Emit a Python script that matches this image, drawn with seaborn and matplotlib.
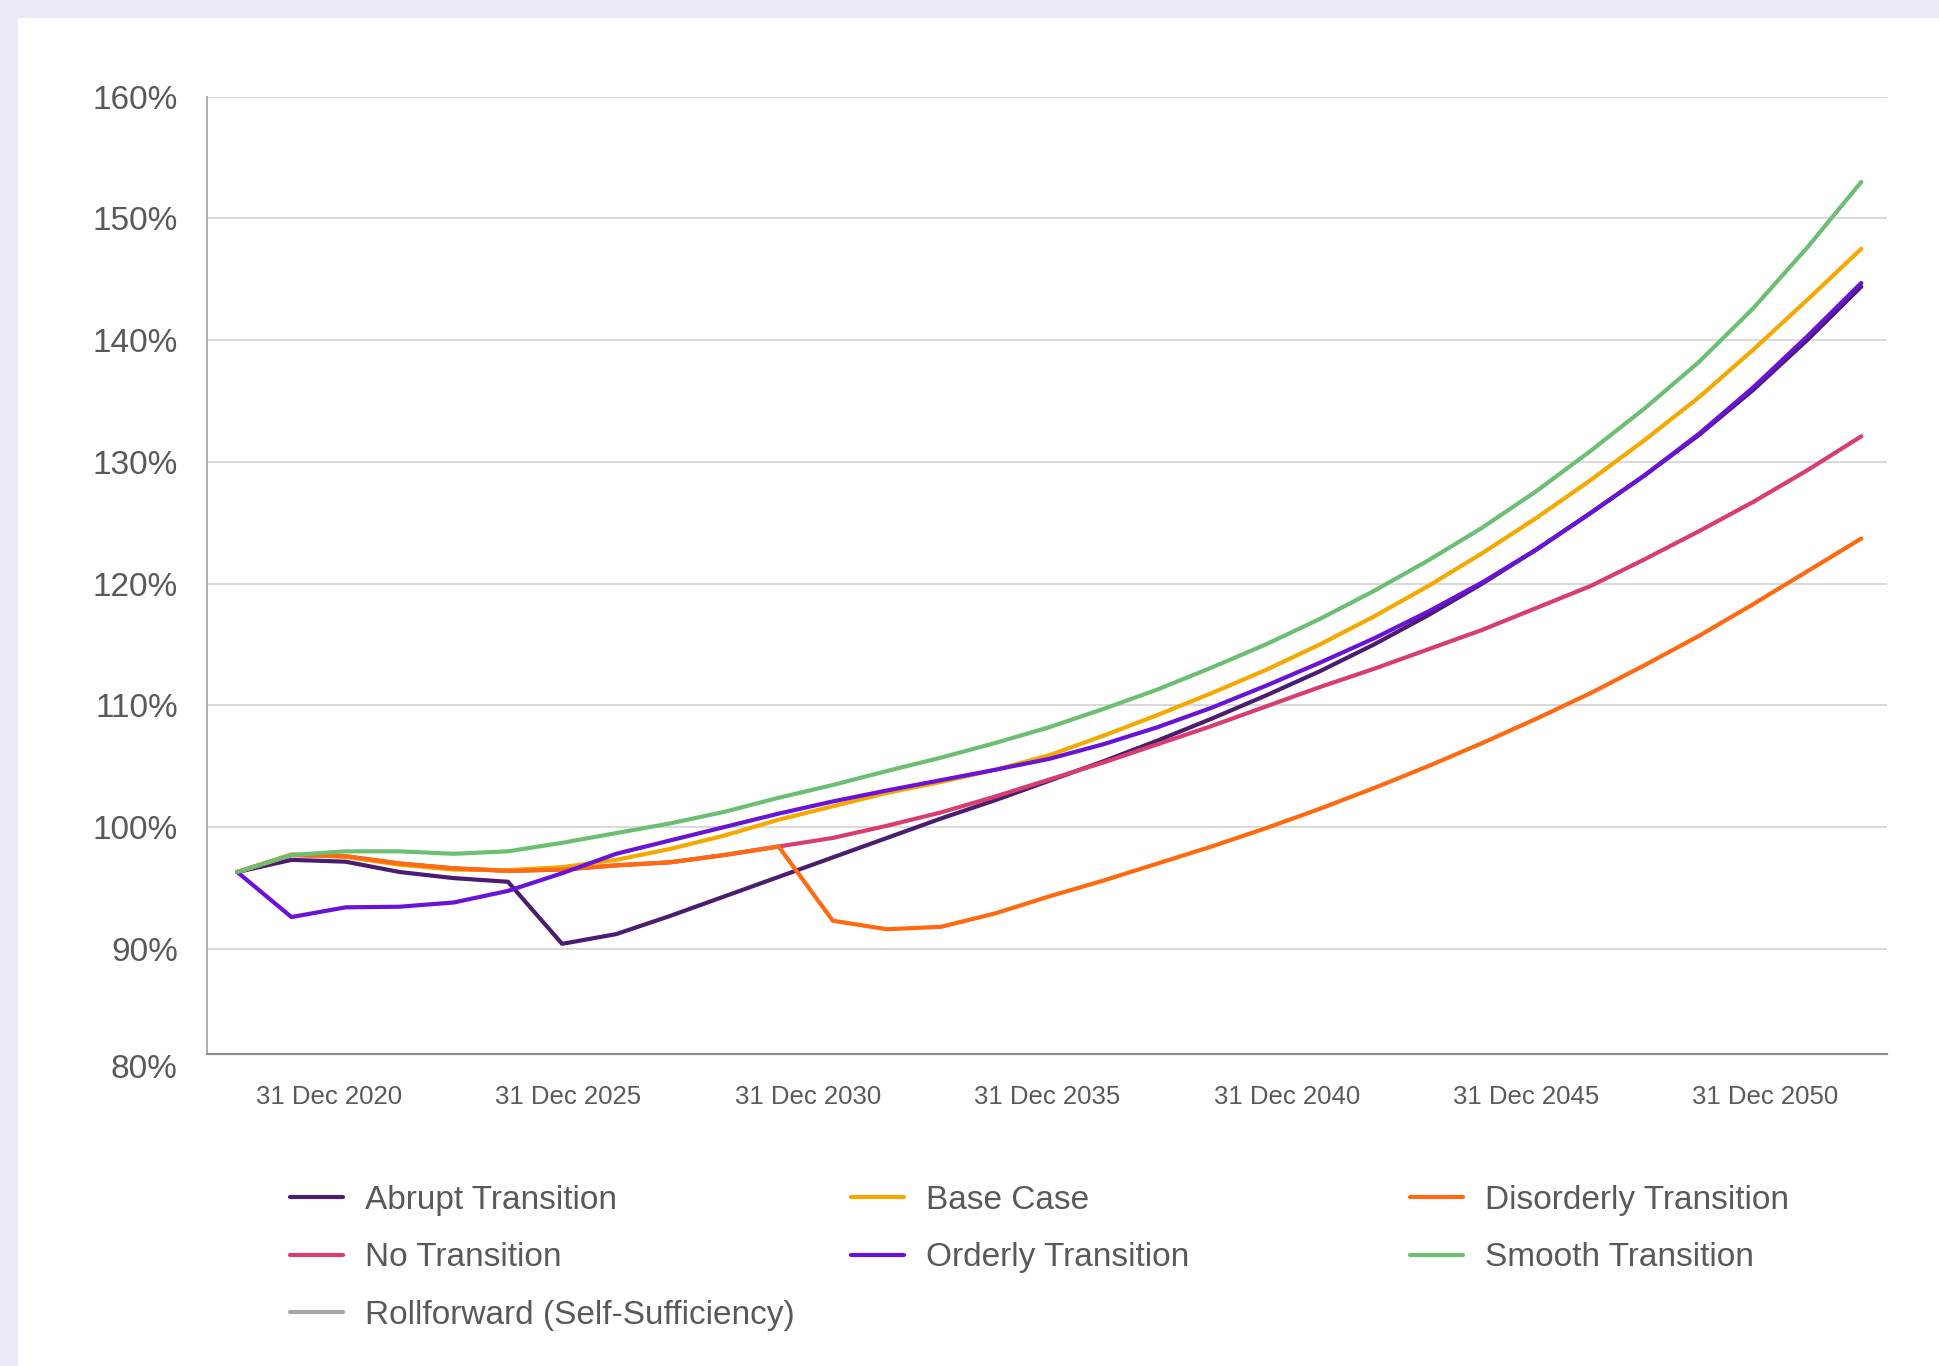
import pandas as pd
import matplotlib
matplotlib.use("Agg")
import matplotlib.pyplot as plt
import matplotlib.dates as mdates
from matplotlib.lines import Line2D
from matplotlib.patches import Rectangle
import seaborn as sns

# ---- data -------------------------------------------------------------
# projection valuation dates (31 evenly spaced points)
proj_dates = pd.date_range("2019-02-01", "2052-12-31", periods=31)

abrupt = [96.3, 97.3, 97.15, 96.3, 95.8, 95.5, 90.4, 91.2, 92.7, 94.3, 95.9,
          97.5, 99.1, 100.7, 102.2, 103.8, 105.4, 107.1, 108.9, 110.8, 112.8,
          115.0, 117.4, 120.0, 122.8, 125.8, 128.9, 132.2, 135.9, 140.0, 144.4]
base_case = [96.3, 97.75, 97.55, 96.9, 96.5, 96.45, 96.7, 97.3, 98.2, 99.3, 100.6,
             101.7, 102.8, 103.7, 104.7, 105.9, 107.5, 109.2, 111.0, 112.9, 115.0,
             117.3, 119.8, 122.5, 125.4, 128.5, 131.8, 135.3, 139.2, 143.3, 147.5]
disorderly = [96.3, 97.7, 97.6, 97.0, 96.6, 96.4, 96.5, 96.85, 97.1, 97.7, 98.4,
              92.3, 91.6, 91.8, 92.9, 94.3, 95.6, 97.0, 98.4, 99.9, 101.5,
              103.2, 105.0, 106.9, 108.9, 111.0, 113.3, 115.7, 118.3, 121.0, 123.7]
no_transition = [96.3, 97.7, 97.6, 97.0, 96.6, 96.4, 96.5, 96.85, 97.1, 97.7, 98.4,
                 99.1, 100.1, 101.2, 102.5, 103.9, 105.3, 106.8, 108.3, 109.9, 111.5,
                 113.0, 114.6, 116.2, 118.0, 119.8, 122.0, 124.3, 126.7, 129.3, 132.1]
orderly = [96.3, 92.6, 93.4, 93.45, 93.8, 94.75, 96.2, 97.8, 98.9, 100.0, 101.1,
           102.1, 103.0, 103.85, 104.7, 105.6, 106.8, 108.2, 109.8, 111.6, 113.5,
           115.5, 117.7, 120.1, 122.8, 125.8, 128.9, 132.3, 136.1, 140.3, 144.7]
smooth = [96.3, 97.7, 98.0, 98.0, 97.8, 98.0, 98.7, 99.5, 100.3, 101.25, 102.4,
          103.45, 104.6, 105.7, 106.9, 108.2, 109.7, 111.3, 113.1, 115.0, 117.1,
          119.4, 121.9, 124.6, 127.6, 130.9, 134.4, 138.2, 142.6, 147.6, 153.0]
rollforward = [96.3]  # only the opening valuation

series = {
    "Abrupt Transition": abrupt,
    "Base Case": base_case,
    "Disorderly Transition": disorderly,
    "No Transition": no_transition,
    "Orderly Transition": orderly,
    "Smooth Transition": smooth,
    "Rollforward (Self-Sufficiency)": rollforward,
}

colors = {
    "Abrupt Transition": "#4B1C70",
    "Base Case": "#F5A800",
    "Disorderly Transition": "#FF6A10",
    "No Transition": "#D93D70",
    "Orderly Transition": "#6A12D6",
    "Smooth Transition": "#6CBF72",
    "Rollforward (Self-Sufficiency)": "#A6A6A6",
}

tick_dates = ["2020-12-31", "2025-12-31", "2030-12-31", "2035-12-31",
              "2040-12-31", "2045-12-31", "2050-12-31"]

# the value axis starts a little above its lowest label, as in the house style
y_floor = 81.35
y_ticks = [y_floor, 90, 100, 110, 120, 130, 140, 150, 160]
y_tick_labels = ["80%", "90%", "100%", "110%", "120%", "130%", "140%", "150%", "160%"]

# ---- long-form table ----------------------------------------------------
frames = []
for name, vals in series.items():
    frames.append(pd.DataFrame({"date": proj_dates[:len(vals)],
                                "value": vals,
                                "scenario": name}))
df = pd.concat(frames, ignore_index=True)

draw_order = ["Rollforward (Self-Sufficiency)", "Abrupt Transition", "No Transition",
              "Base Case", "Disorderly Transition", "Orderly Transition",
              "Smooth Transition"]

# ---- figure -------------------------------------------------------------
sns.set_theme(style="white")
plt.rcParams["font.family"] = ["Liberation Sans", "DejaVu Sans"]

W, H = 1940, 1366
fig = plt.figure(figsize=(W / 100, H / 100), dpi=100)
fig.patch.set_facecolor("#EEE8F6")
fig.add_artist(Rectangle((18 / W, 0), 1, 1 - 18 / H, transform=fig.transFigure,
                         facecolor="white", edgecolor="none", zorder=0))

ax = fig.add_axes([207 / W, 1 - 1054 / H, (1887 - 207) / W, (1054 - 96.7) / H])
ax.set_facecolor("white")

sns.lineplot(data=df, x="date", y="value", hue="scenario", hue_order=draw_order,
             palette=colors, linewidth=3.0, legend=False, estimator=None,
             errorbar=None, ax=ax)

ax.set_ylim(y_floor, 160)
ax.set_yticks(y_ticks)
ax.set_yticklabels(y_tick_labels)
ax.set_xlim(pd.Timestamp("2018-06-15"), pd.Timestamp("2053-07-15"))
ax.set_xticks(pd.to_datetime(tick_dates))
ax.xaxis.set_major_formatter(mdates.DateFormatter("%d %b %Y"))
ax.set_xlabel("")
ax.set_ylabel("")

ax.grid(axis="y", color="#D9D9D9", linewidth=1.4)
ax.grid(axis="x", visible=False)
ax.set_axisbelow(True)
for side in ("top", "right"):
    ax.spines[side].set_visible(False)
ax.spines["left"].set_color("#A6A6A6")
ax.spines["left"].set_linewidth(1.3)
ax.spines["bottom"].set_color("#8C8C8C")
ax.spines["bottom"].set_linewidth(1.6)
ax.spines["bottom"].set_zorder(3)

ax.tick_params(axis="y", length=0, pad=21, labelsize=24, labelcolor="#595959")
ax.tick_params(axis="x", length=0, pad=22, labelsize=18.5, labelcolor="#595959")
# nudge the lowest value label down slightly below the axis line
lowest = ax.get_yticklabels()[0]
lowest.set_verticalalignment("top")
lowest.set_y(y_floor)

# ---- legend: three fixed-width columns ---------------------------------
legend_cols = [
    ["Abrupt Transition", "No Transition", "Rollforward (Self-Sufficiency)"],
    ["Base Case", "Orderly Transition"],
    ["Disorderly Transition", "Smooth Transition"],
]
col_x = [290, 851, 1410]
for names, x0 in zip(legend_cols, col_x):
    handles = [Line2D([], [], color=colors[n], linewidth=3.0) for n in names]
    fig.legend(handles, names, loc="upper left",
               bbox_to_anchor=(x0 / W, 1 - 1185 / H),
               frameon=False, fontsize=24, labelcolor="#595959",
               handlelength=1.6, handletextpad=0.66, labelspacing=0.79,
               borderpad=0, borderaxespad=0)

fig.savefig("out.png", dpi=100, facecolor=fig.get_facecolor())
